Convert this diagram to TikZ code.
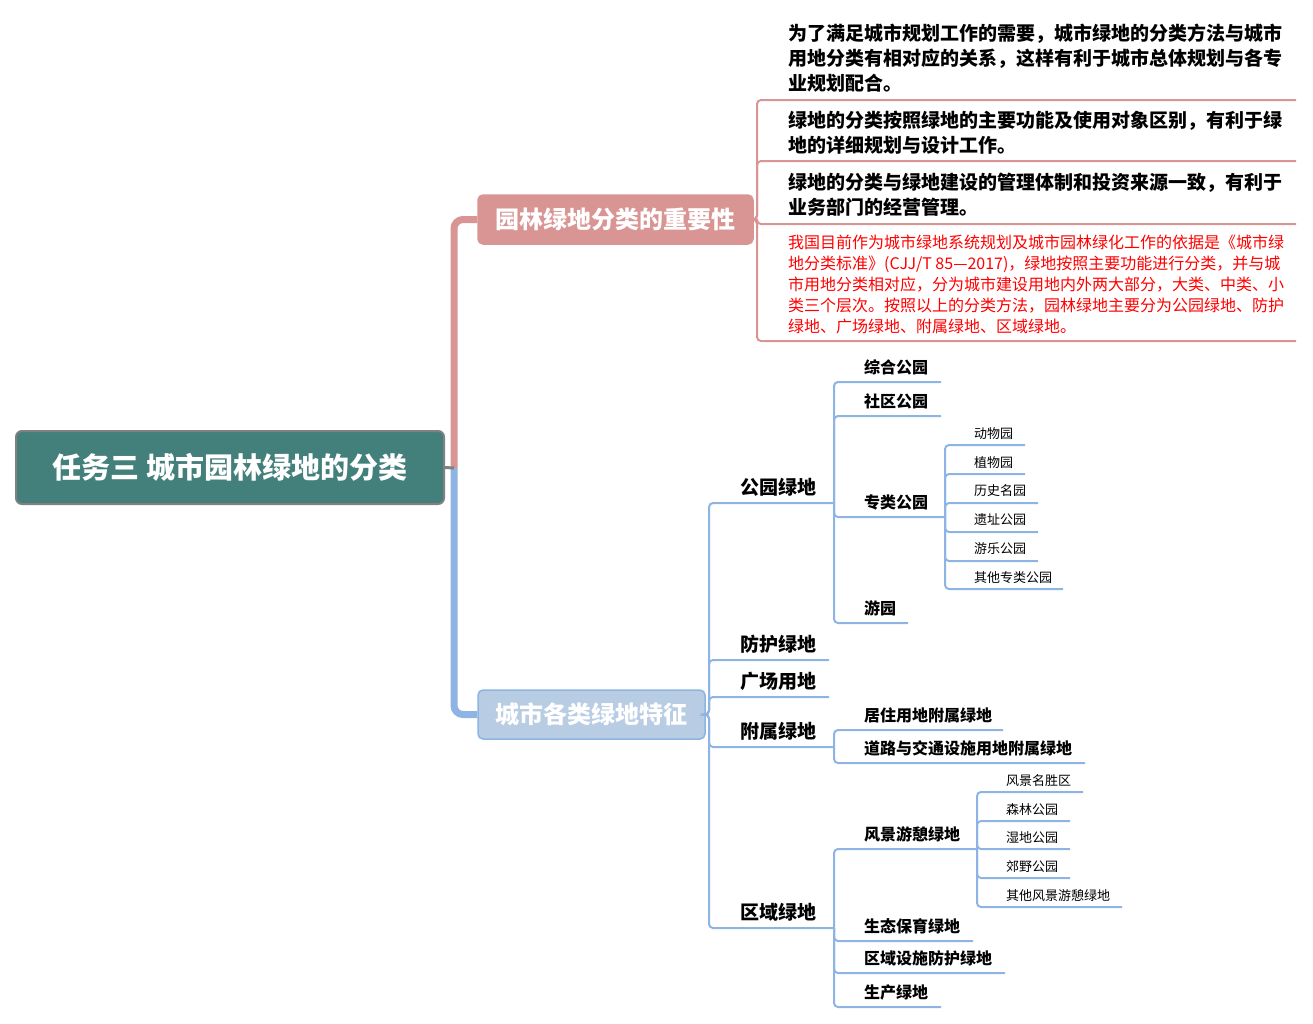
\documentclass[tikz,border=0pt]{standalone}
\usepackage{fontspec}
\setmainfont{Noto Sans CJK SC}
\definecolor{rootfill}{RGB}{67,127,123}
\definecolor{rootline}{RGB}{128,128,128}
\definecolor{pinkc}{RGB}{217,149,148}
\definecolor{bluefill}{RGB}{184,204,228}
\definecolor{bluel}{RGB}{141,180,226}
\definecolor{redtxt}{RGB}{255,0,0}
\begin{document}
\begin{tikzpicture}[x=1pt,y=-1pt,
  rootbox/.style={draw=rootline, line width=2pt, fill=rootfill, rounded corners=6pt, text=white,
    font=\bfseries\fontsize{29}{31}\selectfont, minimum width=428pt, minimum height=73pt, inner sep=0pt},
  pinkbox/.style={draw=pinkc, line width=1.5pt, fill=pinkc, rounded corners=5pt, text=white,
    font=\bfseries\fontsize{24}{26}\selectfont, minimum width=275pt, minimum height=49pt, inner sep=0pt},
  bluebox/.style={draw=bluel, line width=1.5pt, fill=bluefill, rounded corners=5pt, text=white,
    font=\bfseries\fontsize{24}{26}\selectfont, minimum width=227pt, minimum height=49pt, inner sep=0pt},
  lvtwo/.style={font=\bfseries\fontsize{19}{22}\selectfont, anchor=base west, inner sep=0pt},
  lvthree/.style={font=\bfseries\fontsize{16}{19}\selectfont, anchor=base west, inner sep=0pt},
  lvfour/.style={font=\fontsize{13}{15}\selectfont, anchor=base west, inner sep=0pt},
  para/.style={font=\bfseries\fontsize{19}{25}\selectfont, anchor=west, align=left, inner sep=0pt},
  redpara/.style={font=\fontsize{16}{21}\selectfont, text=redtxt, anchor=west, align=left, inner sep=0pt},
  stub/.style={draw=rootline, line width=3pt},
  thickpink/.style={draw=pinkc, line width=7pt, rounded corners=9pt},
  thickblue/.style={draw=bluel, line width=7pt, rounded corners=9pt},
  thinpink/.style={draw=pinkc, line width=2pt, rounded corners=4pt},
  thinblue/.style={draw=bluel, line width=2pt, rounded corners=4pt}
]
\useasboundingbox (0,0) rectangle (1313,1023);

% main nodes
\node[rootbox] (root) at (230,467.5) {任务三 城市园林绿地的分类};
\node[pinkbox] (b1) at (615.5,219.5) {园林绿地分类的重要性};
\node[bluebox] (b2) at (591.5,714.5) {城市各类绿地特征};

% level-1 connectors
\coordinate (j0) at (454,468);
\draw[thickpink] (j0) |- (b1.west);
\draw[thickblue] (j0) |- (b2.west);
\draw[stub] (root.east) -- (j0);

% importance paragraphs
\node[para] (p1) at (788,58) {为了满足城市规划工作的需要，城市绿地的分类方法与城市\\用地分类有相对应的关系，这样有利于城市总体规划与各专\\业规划配合。};
\node[para] (p2) at (788,132.5) {绿地的分类按照绿地的主要功能及使用对象区别，有利于绿\\地的详细规划与设计工作。};
\node[para] (p3) at (788,195) {绿地的分类与绿地建设的管理体制和投资来源一致，有利于\\业务部门的经营管理。};
\node[redpara] (p4) at (788,284) {我国目前作为城市绿地系统规划及城市园林绿化工作的依据是《城市绿\\地分类标准》(CJJ/T 85—2017)，绿地按照主要功能进行分类，并与城\\市用地分类相对应，分为城市建设用地内外两大部分，大类、中类、小\\类三个层次。按照以上的分类方法，园林绿地主要分为公园绿地、防护\\绿地、广场绿地、附属绿地、区域绿地。};
\coordinate (j1) at (757,219.5);
\coordinate (p1-r) at (1296,100);
\coordinate (p2-r) at (1296,161);
\coordinate (p3-r) at (1296,224);
\coordinate (p4-r) at (1296,341);
\foreach \c in {p1-r,p2-r,p3-r,p4-r} \draw[thinpink] (b1.east) -- (j1) |- (\c);

% level 2
\node[lvtwo] (gy) at (740,494) {公园绿地};
\node[lvtwo] (fh) at (740,651) {防护绿地};
\node[lvtwo] (gc) at (740,688) {广场用地};
\node[lvtwo] (fs) at (740,738) {附属绿地};
\node[lvtwo] (qy) at (740,919) {区域绿地};
\coordinate (j2) at (709,714.5);
\coordinate (gy-r) at (834,503);
\coordinate (fh-r) at (829,660);
\coordinate (gc-r) at (829,697);
\coordinate (fs-r) at (834,747);
\coordinate (qy-r) at (834,928);
\foreach \c in {gy-r,fh-r,gc-r,fs-r,qy-r} \draw[thinblue] (b2.east) -- (j2) |- (\c);

% 公园绿地 children
\node[lvthree] (zh) at (864,373.5) {综合公园};
\node[lvthree] (sq) at (864,407.5) {社区公园};
\node[lvthree] (zl) at (864,508.5) {专类公园};
\node[lvthree] (yy) at (864,614.5) {游园};
\coordinate (zh-r) at (941,382);
\coordinate (sq-r) at (941,416);
\coordinate (zl-r) at (945,517);
\coordinate (yy-r) at (908,623);
\foreach \c in {zh-r,sq-r,zl-r,yy-r} \draw[thinblue] (gy-r) |- (\c);

% 专类公园 children
\node[lvfour] (dw) at (974,438) {动物园};
\node[lvfour] (zw) at (974,467) {植物园};
\node[lvfour] (ls) at (974,495.7) {历史名园};
\node[lvfour] (yz) at (974,524.7) {遗址公园};
\node[lvfour] (yl) at (974,553.7) {游乐公园};
\node[lvfour] (qt) at (974,582.3) {其他专类公园};
\coordinate (dw-r) at (1025,445);
\coordinate (zw-r) at (1025,474);
\coordinate (ls-r) at (1038,503);
\coordinate (yz-r) at (1038,532);
\coordinate (yl-r) at (1038,561);
\coordinate (qt-r) at (1063,589);
\foreach \c in {dw-r,zw-r,ls-r,yz-r,yl-r,qt-r} \draw[thinblue] (zl-r) |- (\c);

% 附属绿地 children
\node[lvthree] (jz) at (864,721.5) {居住用地附属绿地};
\node[lvthree] (dl) at (864,754.5) {道路与交通设施用地附属绿地};
\coordinate (jz-r) at (1003,730);
\coordinate (dl-r) at (1085,763);
\foreach \c in {jz-r,dl-r} \draw[thinblue] (fs-r) |- (\c);

% 区域绿地 children
\node[lvthree] (fj) at (864,840.5) {风景游憩绿地};
\node[lvthree] (st) at (864,932.5) {生态保育绿地};
\node[lvthree] (ss) at (864,964.5) {区域设施防护绿地};
\node[lvthree] (sc) at (864,998) {生产绿地};
\coordinate (fj-r) at (977,849);
\coordinate (st-r) at (973,941);
\coordinate (ss-r) at (1005,973);
\coordinate (sc-r) at (941,1007);
\foreach \c in {fj-r,st-r,ss-r,sc-r} \draw[thinblue] (qy-r) |- (\c);

% 风景游憩绿地 children
\node[lvfour] (fm) at (1006,785) {风景名胜区};
\node[lvfour] (sl) at (1006,814) {森林公园};
\node[lvfour] (sd) at (1006,842.3) {湿地公园};
\node[lvfour] (jy) at (1006,871.3) {郊野公园};
\node[lvfour] (qf) at (1006,900.3) {其他风景游憩绿地};
\coordinate (fm-r) at (1083,792);
\coordinate (sl-r) at (1070,821);
\coordinate (sd-r) at (1070,849);
\coordinate (jy-r) at (1070,878);
\coordinate (qf-r) at (1122,907);
\foreach \c in {fm-r,sl-r,sd-r,jy-r,qf-r} \draw[thinblue] (fj-r) |- (\c);
\end{tikzpicture}
\end{document}
